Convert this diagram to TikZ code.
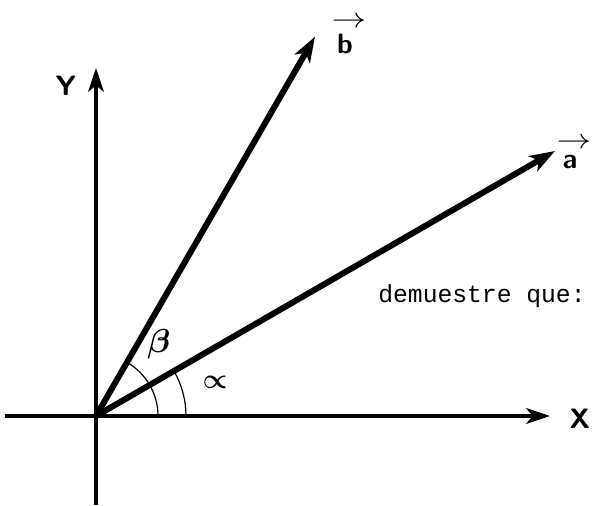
\documentclass[tikz,border=0pt]{standalone}
\usepackage{amsmath,amssymb}
\usepackage{graphicx}
\usepackage{fontspec}
\newfontfamily\monofont{Liberation Mono}
\usetikzlibrary{arrows.meta,positioning,calc}
\tikzset{
  vxaxis/.style={-{Stealth[length=18pt,width=12pt,inset=5pt]}, line width=2.3pt},
  vxvec/.style={-{Stealth[length=19pt,width=13pt,inset=5pt]}, line width=4.5pt},
  vxarc/.style={line width=0.9pt},
  vxlabel/.style={font=\sffamily\bfseries\fontsize{21}{23}\selectfont, inner sep=1pt},
  vxveclabel/.style={font=\sffamily\bfseries\fontsize{21}{23}\selectfont, inner sep=1pt, align=center}
}
\newcommand{\vxarrowover}[1]{\shortstack{\hspace*{6pt}\scalebox{1.25}[1]{$\rightarrow$}\\[2pt]#1}}
\begin{document}
\begin{tikzpicture}[x=0.75pt,y=0.75pt]
  \useasboundingbox (-96,-90) rectangle (500,416);

  \coordinate (O) at (0,0);
  \coordinate (xl) at (-91,0);
  \coordinate (xr) at (454,0);
  \coordinate (yb) at (0,-89);
  \coordinate (yt) at (0,348);
  \coordinate (atip) at (30:530);
  \coordinate (btip) at (60:438);

  \draw[vxaxis] (xl) -- (xr);
  \draw[vxaxis] (yb) -- (yt);

  \draw[vxarc] (62,0) arc[start angle=0, end angle=60, radius=62];
  \draw[vxarc] (90,0) arc[start angle=0, end angle=30, radius=90];

  \draw[vxvec] (O) -- (atip);
  \draw[vxvec] (O) -- (btip);

  \node[vxlabel] (ylab) at (-30,330) {Y};
  \node[vxlabel] (xlab) at (484,-3) {X};
  \node[vxveclabel] (alab) at (474,262) {\vxarrowover{a}};
  \node[vxveclabel] (blab) at (249,380) {\vxarrowover{b}};
  \node[font=\fontsize{24}{26}\selectfont] (beta) at (63,72) {$\boldsymbol{\beta}$};
  \node[font=\fontsize{21}{23}\selectfont] (alpha) at (119,34) {$\boldsymbol{\propto}$};
  \node[font=\monofont\fontsize{18.5}{20}\selectfont] (note) at (386,120) {demuestre que:};
\end{tikzpicture}
\end{document}
